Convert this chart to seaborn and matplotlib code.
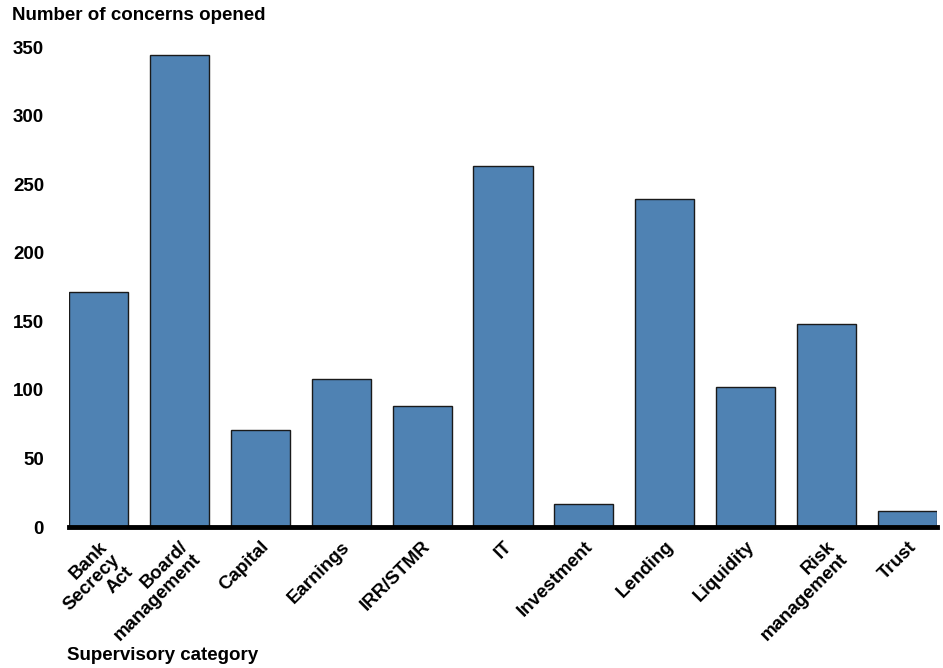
import matplotlib
matplotlib.use("Agg")
import matplotlib.pyplot as plt
import seaborn as sns
import pandas as pd

categories = ["Bank\nSecrecy\nAct", "Board/\nmanagement", "Capital", "Earnings", "IRR/STMR",
              "IT", "Investment", "Lending", "Liquidity", "Risk\nmanagement", "Trust"]
values = [171, 344, 71, 108, 88, 263, 17, 239, 102, 148, 12]
yticks = [0, 50, 100, 150, 200, 250, 300, 350]

sns.set_theme(style="white")
plt.rcParams['font.family'] = ['Liberation Sans', 'DejaVu Sans']
plt.rcParams['font.weight'] = 'bold'
plt.rcParams['text.color'] = 'black'
plt.rcParams['xtick.color'] = 'black'
plt.rcParams['ytick.color'] = 'black'

df = pd.DataFrame({"category": categories, "value": values})

fig = plt.figure(figsize=(9.43, 6.68), dpi=100)
ax = fig.add_axes([69/943, (668-527)/668, (937-69)/943, (527-47)/668])

sns.barplot(data=df, x="category", y="value", color="#4F82B3", saturation=1,
            width=0.73, edgecolor="#1a1a1a", linewidth=1.0, ax=ax)

fs = 13.5
ax.set_xlim(-0.365, len(categories) - 1 + 0.365)
ax.set_ylim(0, 350)
ax.set_yticks(yticks)
ax.set_yticklabels([str(t) for t in yticks], fontsize=fs, fontweight='bold', color='black')
ax.tick_params(axis='y', length=0, pad=18)
ax.tick_params(axis='x', length=0, pad=8)
ax.set_xticks(range(len(categories)))
ax.set_xticklabels(categories, rotation=45, ha='right', rotation_mode='anchor',
                   fontsize=fs, fontweight='bold', linespacing=1.1, color='black')
ax.set_xlabel("")
ax.set_ylabel("")
for s in ["left", "right", "top"]:
    ax.spines[s].set_visible(False)
ax.spines["bottom"].set_linewidth(3.5)
ax.spines["bottom"].set_color("black")
ax.spines["bottom"].set_zorder(5)

fig.text(12/943, 1 - 16/668, "Number of concerns opened", fontsize=fs, fontweight='bold',
         ha='left', va='center', color='black')
fig.text(67/943, 1 - 656/668, "Supervisory category", fontsize=fs, fontweight='bold',
         ha='left', va='center', color='black')

fig.savefig("out.png", dpi=100)
